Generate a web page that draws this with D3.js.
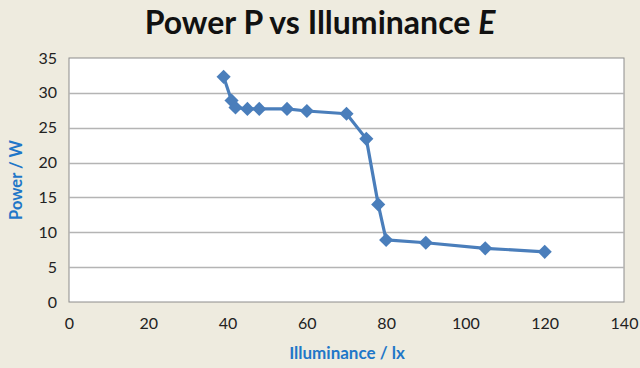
<!DOCTYPE html>
<html>
<head>
<meta charset="utf-8">
<script src="https://cdn.jsdelivr.net/npm/d3@7"></script>
<style>
  body { margin: 0; background: #eeebdf; }
  svg { display: block; }
</style>
</head>
<body>
<svg width="640" height="368"></svg>
<script>
// illuminance (lx) and power (W)
const illuminance = [39, 41, 42, 45, 48, 55, 60, 70, 75, 78, 80, 90, 105, 120];
const power = [32.3, 28.9, 27.9, 27.7, 27.7, 27.7, 27.4, 27.0, 23.4, 14.0, 8.9, 8.5, 7.7, 7.2];
const xTicks = [0, 20, 40, 60, 80, 100, 120, 140];
const yTicks = [0, 5, 10, 15, 20, 25, 30, 35];

const svg = d3.select("svg");
const width = 640, height = 368;
const margin = { top: 58, right: 16, bottom: 66, left: 69 };
const blue = "#4a7ebb";
const font = "Lato, 'Open Sans', sans-serif";

svg.append("rect").attr("width", width).attr("height", height).attr("fill", "#eeebdf");

const x = d3.scaleLinear().domain([0, 140]).range([margin.left, width - margin.right]);
const y = d3.scaleLinear().domain([0, 35]).range([height - margin.bottom, margin.top]);

// plot area
svg.append("rect")
    .attr("x", x(0)).attr("y", y(35))
    .attr("width", x(140) - x(0)).attr("height", y(0) - y(35))
    .attr("fill", "#fff").attr("stroke", "#8c8c8c").attr("stroke-width", 1);

// gridlines
svg.append("g")
    .selectAll("line")
    .data(yTicks.filter(d => d > 0 && d < 35))
    .enter().append("line")
    .attr("x1", x(0)).attr("x2", x(140))
    .attr("y1", d => Math.round(y(d)) + 0.5).attr("y2", d => Math.round(y(d)) + 0.5)
    .attr("stroke", "#b4b4b4").attr("stroke-width", 1.5);

// axes (labels only, Excel style)
const yAxis = svg.append("g")
    .attr("transform", `translate(${x(0) - 12},0)`)
    .call(d3.axisLeft(y).tickValues(yTicks).tickSize(0).tickPadding(0));
yAxis.select(".domain").remove();
yAxis.selectAll("text").attr("font-family", font).attr("font-size", 16).attr("fill", "#222");

const xAxis = svg.append("g")
    .attr("transform", `translate(0,${y(0) + 16})`)
    .call(d3.axisBottom(x).tickValues(xTicks).tickSize(0).tickPadding(0));
xAxis.select(".domain").remove();
xAxis.selectAll("text").attr("font-family", font).attr("font-size", 16).attr("fill", "#222");

// series
const pts = illuminance.map((v, i) => [v, power[i]]);
svg.append("path")
    .datum(pts)
    .attr("fill", "none")
    .attr("stroke", blue)
    .attr("stroke-width", 3.2)
    .attr("stroke-linejoin", "round")
    .attr("d", d3.line().x(d => x(d[0])).y(d => y(d[1])));

svg.append("g")
    .selectAll("path")
    .data(pts)
    .enter().append("path")
    .attr("d", d3.symbol(d3.symbolSquare, 100))
    .attr("transform", d => `translate(${x(d[0])},${y(d[1])}) rotate(45)`)
    .attr("fill", blue);

// title
const title = svg.append("text")
    .attr("x", 320).attr("y", 34)
    .attr("text-anchor", "middle")
    .attr("font-family", font).attr("font-weight", "bold").attr("font-size", 32)
    .attr("fill", "#111");
title.append("tspan").text("Power P vs Illuminance ");
title.append("tspan").attr("font-style", "italic").text("E");

// axis titles
svg.append("text")
    .attr("x", 347).attr("y", 359)
    .attr("text-anchor", "middle")
    .attr("font-family", font).attr("font-weight", "bold").attr("font-size", 17)
    .attr("fill", "#1f77c8")
    .text("Illuminance / lx");

svg.append("text")
    .attr("transform", "translate(22,180) rotate(-90)")
    .attr("text-anchor", "middle")
    .attr("font-family", font).attr("font-weight", "bold").attr("font-size", 16.5)
    .attr("fill", "#1f77c8")
    .text("Power / W");
</script>
</body>
</html>
